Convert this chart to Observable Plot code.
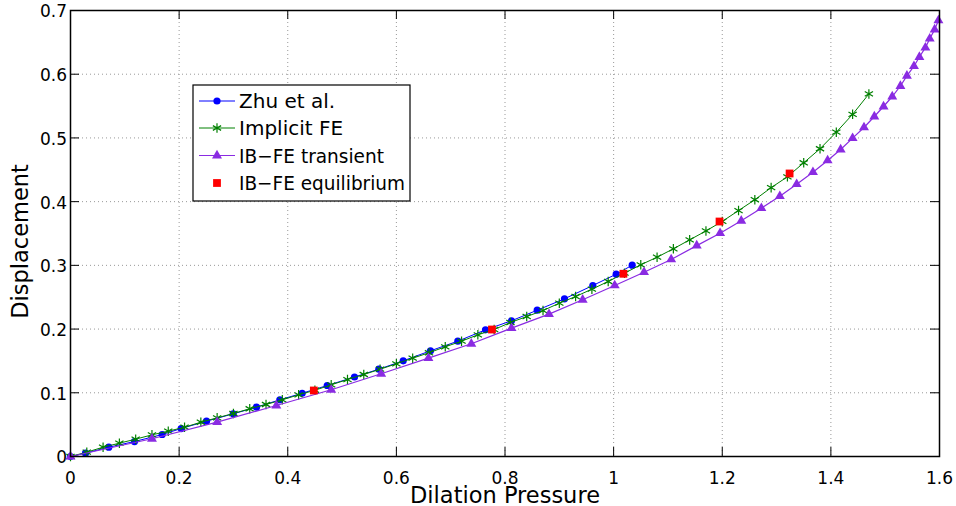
<!DOCTYPE html>
<html><head><meta charset="utf-8">
<script src="https://cdn.jsdelivr.net/npm/d3@7"></script>
<script src="https://cdn.jsdelivr.net/npm/@observablehq/plot@0.6"></script>
<style>
body{margin:0;background:#fff;}
#wrap{position:relative;width:956px;height:506px;}
#legend{position:absolute;left:0;top:0;pointer-events:none;}
</style>
</head><body><div id="wrap"></div>
<script>
// ---- tick labels ----
const xTicks = [0, 0.2, 0.4, 0.6, 0.8, 1.0, 1.2, 1.4, 1.6];
const yTicks = [0, 0.1, 0.2, 0.3, 0.4, 0.5, 0.6, 0.7];

// ---- series names ----
const seriesNames = ["Zhu et al.", "Implicit FE", "IB\u2212FE transient", "IB\u2212FE equilibrium"];

// ---- Zhu et al. ----
const zhuX = [0, 0.0276, 0.0705, 0.1178, 0.1688, 0.2038, 0.2504, 0.2996, 0.3425, 0.3854, 0.4266, 0.4727, 0.5229, 0.5677, 0.6126, 0.6628, 0.7131, 0.7641, 0.8119, 0.8593, 0.9095, 0.9617, 1.0047, 1.0342];
const zhuY = [0, 0.0052, 0.0146, 0.0235, 0.0345, 0.0439, 0.0554, 0.0670, 0.0774, 0.0890, 0.0993, 0.1114, 0.1248, 0.1370, 0.1502, 0.1659, 0.1810, 0.1988, 0.2130, 0.2296, 0.2475, 0.2684, 0.2861, 0.3003];

// ---- Implicit FE ----
const feX = [0, 0.03, 0.06, 0.09, 0.12, 0.15, 0.18, 0.21, 0.24, 0.27, 0.30, 0.33, 0.36, 0.39, 0.42, 0.45, 0.48, 0.51, 0.54, 0.57, 0.60, 0.63, 0.66, 0.69, 0.72, 0.75, 0.78, 0.81, 0.84, 0.87, 0.90, 0.93, 0.96, 0.99, 1.02, 1.05, 1.08, 1.11, 1.14, 1.17, 1.20, 1.23, 1.26, 1.29, 1.32, 1.35, 1.38, 1.41, 1.44, 1.47];
const feY = [0, 0.0068, 0.0146, 0.0209, 0.0272, 0.0340, 0.0397, 0.0460, 0.0538, 0.0607, 0.0675, 0.0749, 0.0816, 0.0890, 0.0968, 0.1040, 0.1125, 0.1208, 0.1287, 0.1370, 0.1455, 0.1543, 0.1628, 0.1722, 0.1810, 0.1910, 0.1993, 0.2103, 0.2197, 0.2291, 0.2406, 0.2511, 0.2626, 0.2747, 0.2877, 0.3009, 0.3128, 0.3260, 0.3400, 0.3540, 0.3690, 0.3860, 0.4030, 0.4220, 0.4390, 0.4610, 0.4830, 0.5090, 0.5370, 0.5690];

// ---- IB-FE transient ----
const ibX = [0, 0.150, 0.270, 0.379, 0.480, 0.572, 0.659, 0.738, 0.812, 0.881, 0.943, 1.002, 1.056, 1.106, 1.153, 1.196, 1.235, 1.272, 1.306, 1.337, 1.367, 1.394, 1.418, 1.440, 1.461, 1.480, 1.497, 1.513, 1.528, 1.540, 1.553, 1.563, 1.574, 1.582, 1.591, 1.598];
const ibY = [0, 0.0278, 0.0540, 0.0800, 0.1047, 0.1298, 0.1543, 0.1769, 0.2014, 0.2234, 0.2460, 0.2684, 0.2893, 0.3092, 0.3310, 0.3505, 0.3700, 0.3897, 0.4085, 0.4274, 0.4462, 0.4646, 0.4818, 0.4996, 0.5164, 0.5336, 0.5493, 0.5650, 0.5815, 0.5975, 0.6126, 0.6270, 0.6417, 0.6558, 0.6700, 0.6844];

// ---- IB-FE equilibrium ----
const eqX = [0.448, 0.776, 1.018, 1.195, 1.324];
const eqY = [0.1036, 0.1993, 0.2868, 0.3688, 0.4442];

const colors = ["#0000ff", "#008000", "#8a2be2", "#ff0000"];

const toPts = (xs, ys) => xs.map((x, i) => ({x, y: ys[i]}));
const zhu = toPts(zhuX, zhuY);
const fe = toPts(feX, feY);
const ib = toPts(ibX, ibY);
const eq = toPts(eqX, eqY);

const W = 956, H = 506, mL = 70, mR = 17, mT = 10, mB = 50;
const iw = W - mL - mR, ih = H - mT - mB;
const tickLen = 9;
const font = "DejaVu Sans";
const fmt = d => String(+d.toFixed(1));

const chart = Plot.plot({
  width: W, height: H,
  marginLeft: mL, marginRight: mR, marginTop: mT, marginBottom: mB,
  style: {fontFamily: font, fontSize: "17px", background: "white", color: "black", overflow: "visible"},
  x: {domain: [0, 1.6], ticks: xTicks},
  y: {domain: [0, 0.7], ticks: yTicks},
  marks: [
    Plot.gridX(xTicks, {stroke: "#999", strokeOpacity: 1, strokeDasharray: "1,3"}),
    Plot.gridY(yTicks, {stroke: "#999", strokeOpacity: 1, strokeDasharray: "1,3"}),
    Plot.tickX(xTicks, {x: d => d, insetTop: ih - tickLen, stroke: "black"}),
    Plot.tickX(xTicks, {x: d => d, insetBottom: ih - tickLen, stroke: "black"}),
    Plot.tickY(yTicks, {y: d => d, insetRight: iw - tickLen, stroke: "black"}),
    Plot.tickY(yTicks, {y: d => d, insetLeft: iw - tickLen, stroke: "black"}),
    Plot.axisX(xTicks, {tickSize: 0, tickPadding: 15, label: null, fontSize: 17, tickFormat: fmt}),
    Plot.axisY(yTicks, {tickSize: 0, tickPadding: 3.5, dy: 1.5, label: null, fontSize: 17, tickFormat: fmt}),
    Plot.line(zhu, {x: "x", y: "y", stroke: colors[0], strokeWidth: 1}),
    Plot.dot(zhu, {x: "x", y: "y", r: 3.6, fill: colors[0], symbol: "circle"}),
    Plot.line(fe, {x: "x", y: "y", stroke: colors[1], strokeWidth: 1}),
    Plot.dot(fe, {x: "x", y: "y", r: 4.5, stroke: colors[1], strokeWidth: 1.2, symbol: "asterisk"}),
    Plot.line(ib, {x: "x", y: "y", stroke: colors[2], strokeWidth: 1.2}),
    Plot.dot(ib, {x: "x", y: "y", r: 3.7, fill: colors[2], symbol: "triangle"}),
    Plot.dot(eq, {x: "x", y: "y", r: 4.4, fill: colors[3], symbol: "square"}),
    Plot.frame({stroke: "black", strokeWidth: 1.5}),
    Plot.text(["Dilation Pressure"], {text: d => d, frameAnchor: "bottom", textAnchor: "middle", dy: 46, lineAnchor: "bottom", fontSize: 22.5}),
    Plot.text(["Displacement"], {text: d => d, frameAnchor: "left", textAnchor: "middle", rotate: -90, dx: -43, dy: 8, lineAnchor: "bottom", fontSize: 22.5})
  ]
});
const wrap = document.getElementById("wrap");
wrap.appendChild(chart);

// ---- legend (inside the axes, top-left) ----
const lg = d3.select(wrap).append("svg").attr("id", "legend").attr("width", W).attr("height", H)
  .style("font-family", font);
const bx = 193, by = 85, bw = 217, bh = 116;
lg.append("rect").attr("x", bx).attr("y", by).attr("width", bw).attr("height", bh)
  .attr("fill", "white").attr("stroke", "black").attr("stroke-width", 1.2);
const rowY = [101, 128, 155.5, 183];
const textLen = [null, null, 145, 166];
const symbols = [d3.symbolCircle, d3.symbolAsterisk, d3.symbolTriangle, d3.symbolSquare];
const radii = [3.6, 4.5, 3.7, 4.4];
seriesNames.forEach((name, i) => {
  const y = rowY[i];
  if (i < 3) {
    lg.append("line").attr("x1", 199).attr("x2", 235).attr("y1", y).attr("y2", y)
      .attr("stroke", colors[i]).attr("stroke-width", 1);
  }
  const p = lg.append("path").attr("d", d3.symbol(symbols[i], radii[i] * radii[i] * Math.PI)())
    .attr("transform", `translate(217,${y})`);
  if (i === 1) p.attr("fill", "none").attr("stroke", colors[i]).attr("stroke-width", 1.2);
  else p.attr("fill", colors[i]);
  const t = lg.append("text").attr("x", 239).attr("y", y).attr("dy", "0.36em")
    .attr("font-size", 20).attr("fill", "black").text(name);
  if (textLen[i]) t.attr("textLength", textLen[i]).attr("lengthAdjust", "spacingAndGlyphs");
});
</script>
</body></html>
